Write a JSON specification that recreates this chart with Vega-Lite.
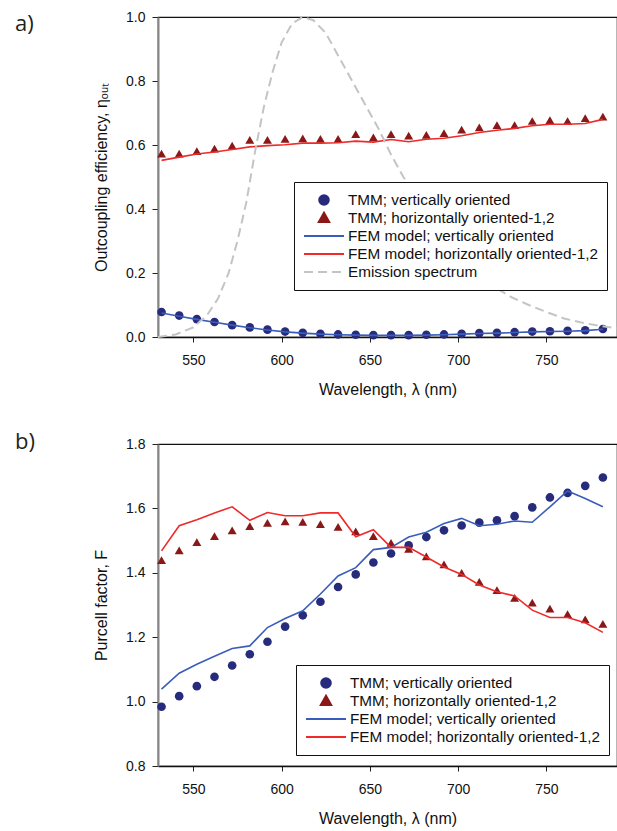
{
  "$schema": "https://vega.github.io/schema/vega-lite/v6.json",
  "background": "white",
  "padding": {"left": 14, "top": 9, "right": 1, "bottom": 5},
  "config": {
    "view": {"stroke": "#111", "strokeWidth": 1.2},
    "axis": {
      "grid": false,
      "labelFont": "Liberation Sans",
      "labelFontSize": 14,
      "labelColor": "#111",
      "titleFont": "Liberation Sans",
      "titleFontSize": 16,
      "titleFontWeight": "normal",
      "titleColor": "#111",
      "tickColor": "#222",
      "tickWidth": 1,
      "domainColor": "#111",
      "domainWidth": 1.5
    },
    "axisX": {"tickSize": 5, "labelPadding": 11, "titlePadding": 14},
    "axisY": {"tickSize": 6, "labelPadding": 7, "titlePadding": 16, "domainColor": "#858585", "domainWidth": 2},
    "title": {"font": "Open Sans", "fontSize": 22, "fontWeight": "normal", "color": "#231f20"}
  },
  "datasets": {
    "a": [
      {"wl": 532, "s": "TMM; vertically oriented", "v": 0.078},
      {"wl": 542, "s": "TMM; vertically oriented", "v": 0.067},
      {"wl": 552, "s": "TMM; vertically oriented", "v": 0.056},
      {"wl": 562, "s": "TMM; vertically oriented", "v": 0.047},
      {"wl": 572, "s": "TMM; vertically oriented", "v": 0.037},
      {"wl": 582, "s": "TMM; vertically oriented", "v": 0.030},
      {"wl": 592, "s": "TMM; vertically oriented", "v": 0.023},
      {"wl": 602, "s": "TMM; vertically oriented", "v": 0.017},
      {"wl": 612, "s": "TMM; vertically oriented", "v": 0.013},
      {"wl": 622, "s": "TMM; vertically oriented", "v": 0.010},
      {"wl": 632, "s": "TMM; vertically oriented", "v": 0.008},
      {"wl": 642, "s": "TMM; vertically oriented", "v": 0.007},
      {"wl": 652, "s": "TMM; vertically oriented", "v": 0.006},
      {"wl": 662, "s": "TMM; vertically oriented", "v": 0.006},
      {"wl": 672, "s": "TMM; vertically oriented", "v": 0.006},
      {"wl": 682, "s": "TMM; vertically oriented", "v": 0.007},
      {"wl": 692, "s": "TMM; vertically oriented", "v": 0.008},
      {"wl": 702, "s": "TMM; vertically oriented", "v": 0.010},
      {"wl": 712, "s": "TMM; vertically oriented", "v": 0.012},
      {"wl": 722, "s": "TMM; vertically oriented", "v": 0.013},
      {"wl": 732, "s": "TMM; vertically oriented", "v": 0.015},
      {"wl": 742, "s": "TMM; vertically oriented", "v": 0.017},
      {"wl": 752, "s": "TMM; vertically oriented", "v": 0.018},
      {"wl": 762, "s": "TMM; vertically oriented", "v": 0.019},
      {"wl": 772, "s": "TMM; vertically oriented", "v": 0.021},
      {"wl": 782, "s": "TMM; vertically oriented", "v": 0.025},
      {"wl": 532, "s": "TMM; horizontally oriented-1,2", "v": 0.573},
      {"wl": 542, "s": "TMM; horizontally oriented-1,2", "v": 0.573},
      {"wl": 552, "s": "TMM; horizontally oriented-1,2", "v": 0.581},
      {"wl": 562, "s": "TMM; horizontally oriented-1,2", "v": 0.589},
      {"wl": 572, "s": "TMM; horizontally oriented-1,2", "v": 0.598},
      {"wl": 582, "s": "TMM; horizontally oriented-1,2", "v": 0.616},
      {"wl": 592, "s": "TMM; horizontally oriented-1,2", "v": 0.616},
      {"wl": 602, "s": "TMM; horizontally oriented-1,2", "v": 0.619},
      {"wl": 612, "s": "TMM; horizontally oriented-1,2", "v": 0.621},
      {"wl": 622, "s": "TMM; horizontally oriented-1,2", "v": 0.619},
      {"wl": 632, "s": "TMM; horizontally oriented-1,2", "v": 0.619},
      {"wl": 642, "s": "TMM; horizontally oriented-1,2", "v": 0.634},
      {"wl": 652, "s": "TMM; horizontally oriented-1,2", "v": 0.624},
      {"wl": 662, "s": "TMM; horizontally oriented-1,2", "v": 0.634},
      {"wl": 672, "s": "TMM; horizontally oriented-1,2", "v": 0.629},
      {"wl": 682, "s": "TMM; horizontally oriented-1,2", "v": 0.632},
      {"wl": 692, "s": "TMM; horizontally oriented-1,2", "v": 0.637},
      {"wl": 702, "s": "TMM; horizontally oriented-1,2", "v": 0.648},
      {"wl": 712, "s": "TMM; horizontally oriented-1,2", "v": 0.655},
      {"wl": 722, "s": "TMM; horizontally oriented-1,2", "v": 0.662},
      {"wl": 732, "s": "TMM; horizontally oriented-1,2", "v": 0.662},
      {"wl": 742, "s": "TMM; horizontally oriented-1,2", "v": 0.675},
      {"wl": 752, "s": "TMM; horizontally oriented-1,2", "v": 0.678},
      {"wl": 762, "s": "TMM; horizontally oriented-1,2", "v": 0.675},
      {"wl": 772, "s": "TMM; horizontally oriented-1,2", "v": 0.684},
      {"wl": 782, "s": "TMM; horizontally oriented-1,2", "v": 0.689},
      {"wl": 532, "s": "FEM model; vertically oriented", "v": 0.075},
      {"wl": 542, "s": "FEM model; vertically oriented", "v": 0.065},
      {"wl": 552, "s": "FEM model; vertically oriented", "v": 0.055},
      {"wl": 562, "s": "FEM model; vertically oriented", "v": 0.046},
      {"wl": 572, "s": "FEM model; vertically oriented", "v": 0.037},
      {"wl": 582, "s": "FEM model; vertically oriented", "v": 0.029},
      {"wl": 592, "s": "FEM model; vertically oriented", "v": 0.022},
      {"wl": 602, "s": "FEM model; vertically oriented", "v": 0.016},
      {"wl": 612, "s": "FEM model; vertically oriented", "v": 0.012},
      {"wl": 622, "s": "FEM model; vertically oriented", "v": 0.009},
      {"wl": 632, "s": "FEM model; vertically oriented", "v": 0.007},
      {"wl": 642, "s": "FEM model; vertically oriented", "v": 0.006},
      {"wl": 652, "s": "FEM model; vertically oriented", "v": 0.005},
      {"wl": 662, "s": "FEM model; vertically oriented", "v": 0.005},
      {"wl": 672, "s": "FEM model; vertically oriented", "v": 0.005},
      {"wl": 682, "s": "FEM model; vertically oriented", "v": 0.006},
      {"wl": 692, "s": "FEM model; vertically oriented", "v": 0.007},
      {"wl": 702, "s": "FEM model; vertically oriented", "v": 0.009},
      {"wl": 712, "s": "FEM model; vertically oriented", "v": 0.011},
      {"wl": 722, "s": "FEM model; vertically oriented", "v": 0.012},
      {"wl": 732, "s": "FEM model; vertically oriented", "v": 0.014},
      {"wl": 742, "s": "FEM model; vertically oriented", "v": 0.016},
      {"wl": 752, "s": "FEM model; vertically oriented", "v": 0.017},
      {"wl": 762, "s": "FEM model; vertically oriented", "v": 0.018},
      {"wl": 772, "s": "FEM model; vertically oriented", "v": 0.020},
      {"wl": 782, "s": "FEM model; vertically oriented", "v": 0.024},
      {"wl": 532, "s": "FEM model; horizontally oriented-1,2", "v": 0.552},
      {"wl": 542, "s": "FEM model; horizontally oriented-1,2", "v": 0.562},
      {"wl": 552, "s": "FEM model; horizontally oriented-1,2", "v": 0.572},
      {"wl": 562, "s": "FEM model; horizontally oriented-1,2", "v": 0.578},
      {"wl": 572, "s": "FEM model; horizontally oriented-1,2", "v": 0.586},
      {"wl": 582, "s": "FEM model; horizontally oriented-1,2", "v": 0.594},
      {"wl": 592, "s": "FEM model; horizontally oriented-1,2", "v": 0.598},
      {"wl": 602, "s": "FEM model; horizontally oriented-1,2", "v": 0.601},
      {"wl": 612, "s": "FEM model; horizontally oriented-1,2", "v": 0.606},
      {"wl": 622, "s": "FEM model; horizontally oriented-1,2", "v": 0.606},
      {"wl": 632, "s": "FEM model; horizontally oriented-1,2", "v": 0.607},
      {"wl": 642, "s": "FEM model; horizontally oriented-1,2", "v": 0.612},
      {"wl": 652, "s": "FEM model; horizontally oriented-1,2", "v": 0.609},
      {"wl": 662, "s": "FEM model; horizontally oriented-1,2", "v": 0.617},
      {"wl": 672, "s": "FEM model; horizontally oriented-1,2", "v": 0.610},
      {"wl": 682, "s": "FEM model; horizontally oriented-1,2", "v": 0.618},
      {"wl": 692, "s": "FEM model; horizontally oriented-1,2", "v": 0.621},
      {"wl": 702, "s": "FEM model; horizontally oriented-1,2", "v": 0.629},
      {"wl": 712, "s": "FEM model; horizontally oriented-1,2", "v": 0.639},
      {"wl": 722, "s": "FEM model; horizontally oriented-1,2", "v": 0.646},
      {"wl": 732, "s": "FEM model; horizontally oriented-1,2", "v": 0.652},
      {"wl": 742, "s": "FEM model; horizontally oriented-1,2", "v": 0.660},
      {"wl": 752, "s": "FEM model; horizontally oriented-1,2", "v": 0.665},
      {"wl": 762, "s": "FEM model; horizontally oriented-1,2", "v": 0.665},
      {"wl": 772, "s": "FEM model; horizontally oriented-1,2", "v": 0.667},
      {"wl": 782, "s": "FEM model; horizontally oriented-1,2", "v": 0.680},
      {"wl": 530, "s": "Emission spectrum", "v": 0.0},
      {"wl": 540, "s": "Emission spectrum", "v": 0.008},
      {"wl": 550, "s": "Emission spectrum", "v": 0.03},
      {"wl": 558, "s": "Emission spectrum", "v": 0.07},
      {"wl": 564, "s": "Emission spectrum", "v": 0.12},
      {"wl": 570, "s": "Emission spectrum", "v": 0.2},
      {"wl": 575, "s": "Emission spectrum", "v": 0.3},
      {"wl": 580, "s": "Emission spectrum", "v": 0.42},
      {"wl": 585, "s": "Emission spectrum", "v": 0.58},
      {"wl": 590, "s": "Emission spectrum", "v": 0.72},
      {"wl": 595, "s": "Emission spectrum", "v": 0.83},
      {"wl": 600, "s": "Emission spectrum", "v": 0.92},
      {"wl": 606, "s": "Emission spectrum", "v": 0.98},
      {"wl": 612, "s": "Emission spectrum", "v": 1.0},
      {"wl": 618, "s": "Emission spectrum", "v": 0.99},
      {"wl": 625, "s": "Emission spectrum", "v": 0.95},
      {"wl": 632, "s": "Emission spectrum", "v": 0.88},
      {"wl": 640, "s": "Emission spectrum", "v": 0.8},
      {"wl": 648, "s": "Emission spectrum", "v": 0.72},
      {"wl": 655, "s": "Emission spectrum", "v": 0.65},
      {"wl": 662, "s": "Emission spectrum", "v": 0.57},
      {"wl": 669, "s": "Emission spectrum", "v": 0.5},
      {"wl": 676, "s": "Emission spectrum", "v": 0.44},
      {"wl": 684, "s": "Emission spectrum", "v": 0.37},
      {"wl": 692, "s": "Emission spectrum", "v": 0.31},
      {"wl": 700, "s": "Emission spectrum", "v": 0.26},
      {"wl": 710, "s": "Emission spectrum", "v": 0.2},
      {"wl": 720, "s": "Emission spectrum", "v": 0.158},
      {"wl": 730, "s": "Emission spectrum", "v": 0.125},
      {"wl": 740, "s": "Emission spectrum", "v": 0.1},
      {"wl": 750, "s": "Emission spectrum", "v": 0.078},
      {"wl": 760, "s": "Emission spectrum", "v": 0.058},
      {"wl": 770, "s": "Emission spectrum", "v": 0.045},
      {"wl": 780, "s": "Emission spectrum", "v": 0.035},
      {"wl": 790, "s": "Emission spectrum", "v": 0.027}
    ],
    "b": [
      {"wl": 532, "s": "TMM; vertically oriented", "v": 0.984},
      {"wl": 542, "s": "TMM; vertically oriented", "v": 1.017},
      {"wl": 552, "s": "TMM; vertically oriented", "v": 1.048},
      {"wl": 562, "s": "TMM; vertically oriented", "v": 1.077},
      {"wl": 572, "s": "TMM; vertically oriented", "v": 1.112},
      {"wl": 582, "s": "TMM; vertically oriented", "v": 1.147},
      {"wl": 592, "s": "TMM; vertically oriented", "v": 1.186},
      {"wl": 602, "s": "TMM; vertically oriented", "v": 1.233},
      {"wl": 612, "s": "TMM; vertically oriented", "v": 1.268},
      {"wl": 622, "s": "TMM; vertically oriented", "v": 1.310},
      {"wl": 632, "s": "TMM; vertically oriented", "v": 1.356},
      {"wl": 642, "s": "TMM; vertically oriented", "v": 1.395},
      {"wl": 652, "s": "TMM; vertically oriented", "v": 1.432},
      {"wl": 662, "s": "TMM; vertically oriented", "v": 1.460},
      {"wl": 672, "s": "TMM; vertically oriented", "v": 1.485},
      {"wl": 682, "s": "TMM; vertically oriented", "v": 1.511},
      {"wl": 692, "s": "TMM; vertically oriented", "v": 1.532},
      {"wl": 702, "s": "TMM; vertically oriented", "v": 1.547},
      {"wl": 712, "s": "TMM; vertically oriented", "v": 1.556},
      {"wl": 722, "s": "TMM; vertically oriented", "v": 1.563},
      {"wl": 732, "s": "TMM; vertically oriented", "v": 1.576},
      {"wl": 742, "s": "TMM; vertically oriented", "v": 1.603},
      {"wl": 752, "s": "TMM; vertically oriented", "v": 1.634},
      {"wl": 762, "s": "TMM; vertically oriented", "v": 1.648},
      {"wl": 772, "s": "TMM; vertically oriented", "v": 1.670},
      {"wl": 782, "s": "TMM; vertically oriented", "v": 1.696},
      {"wl": 532, "s": "TMM; horizontally oriented-1,2", "v": 1.439},
      {"wl": 542, "s": "TMM; horizontally oriented-1,2", "v": 1.470},
      {"wl": 552, "s": "TMM; horizontally oriented-1,2", "v": 1.495},
      {"wl": 562, "s": "TMM; horizontally oriented-1,2", "v": 1.514},
      {"wl": 572, "s": "TMM; horizontally oriented-1,2", "v": 1.532},
      {"wl": 582, "s": "TMM; horizontally oriented-1,2", "v": 1.545},
      {"wl": 592, "s": "TMM; horizontally oriented-1,2", "v": 1.555},
      {"wl": 602, "s": "TMM; horizontally oriented-1,2", "v": 1.560},
      {"wl": 612, "s": "TMM; horizontally oriented-1,2", "v": 1.558},
      {"wl": 622, "s": "TMM; horizontally oriented-1,2", "v": 1.551},
      {"wl": 632, "s": "TMM; horizontally oriented-1,2", "v": 1.543},
      {"wl": 642, "s": "TMM; horizontally oriented-1,2", "v": 1.529},
      {"wl": 652, "s": "TMM; horizontally oriented-1,2", "v": 1.514},
      {"wl": 662, "s": "TMM; horizontally oriented-1,2", "v": 1.493},
      {"wl": 672, "s": "TMM; horizontally oriented-1,2", "v": 1.474},
      {"wl": 682, "s": "TMM; horizontally oriented-1,2", "v": 1.451},
      {"wl": 692, "s": "TMM; horizontally oriented-1,2", "v": 1.426},
      {"wl": 702, "s": "TMM; horizontally oriented-1,2", "v": 1.400},
      {"wl": 712, "s": "TMM; horizontally oriented-1,2", "v": 1.372},
      {"wl": 722, "s": "TMM; horizontally oriented-1,2", "v": 1.346},
      {"wl": 732, "s": "TMM; horizontally oriented-1,2", "v": 1.322},
      {"wl": 742, "s": "TMM; horizontally oriented-1,2", "v": 1.307},
      {"wl": 752, "s": "TMM; horizontally oriented-1,2", "v": 1.289},
      {"wl": 762, "s": "TMM; horizontally oriented-1,2", "v": 1.272},
      {"wl": 772, "s": "TMM; horizontally oriented-1,2", "v": 1.255},
      {"wl": 782, "s": "TMM; horizontally oriented-1,2", "v": 1.241},
      {"wl": 532, "s": "FEM model; vertically oriented", "v": 1.039},
      {"wl": 542, "s": "FEM model; vertically oriented", "v": 1.088},
      {"wl": 552, "s": "FEM model; vertically oriented", "v": 1.116},
      {"wl": 562, "s": "FEM model; vertically oriented", "v": 1.141},
      {"wl": 572, "s": "FEM model; vertically oriented", "v": 1.165},
      {"wl": 582, "s": "FEM model; vertically oriented", "v": 1.173},
      {"wl": 592, "s": "FEM model; vertically oriented", "v": 1.230},
      {"wl": 602, "s": "FEM model; vertically oriented", "v": 1.258},
      {"wl": 612, "s": "FEM model; vertically oriented", "v": 1.282},
      {"wl": 622, "s": "FEM model; vertically oriented", "v": 1.334},
      {"wl": 632, "s": "FEM model; vertically oriented", "v": 1.390},
      {"wl": 642, "s": "FEM model; vertically oriented", "v": 1.416},
      {"wl": 652, "s": "FEM model; vertically oriented", "v": 1.472},
      {"wl": 662, "s": "FEM model; vertically oriented", "v": 1.479},
      {"wl": 672, "s": "FEM model; vertically oriented", "v": 1.511},
      {"wl": 682, "s": "FEM model; vertically oriented", "v": 1.526},
      {"wl": 692, "s": "FEM model; vertically oriented", "v": 1.553},
      {"wl": 702, "s": "FEM model; vertically oriented", "v": 1.569},
      {"wl": 712, "s": "FEM model; vertically oriented", "v": 1.546},
      {"wl": 722, "s": "FEM model; vertically oriented", "v": 1.551},
      {"wl": 732, "s": "FEM model; vertically oriented", "v": 1.561},
      {"wl": 742, "s": "FEM model; vertically oriented", "v": 1.557},
      {"wl": 752, "s": "FEM model; vertically oriented", "v": 1.605},
      {"wl": 762, "s": "FEM model; vertically oriented", "v": 1.654},
      {"wl": 772, "s": "FEM model; vertically oriented", "v": 1.631},
      {"wl": 782, "s": "FEM model; vertically oriented", "v": 1.605},
      {"wl": 532, "s": "FEM model; horizontally oriented-1,2", "v": 1.468},
      {"wl": 542, "s": "FEM model; horizontally oriented-1,2", "v": 1.546},
      {"wl": 552, "s": "FEM model; horizontally oriented-1,2", "v": 1.565},
      {"wl": 562, "s": "FEM model; horizontally oriented-1,2", "v": 1.586},
      {"wl": 572, "s": "FEM model; horizontally oriented-1,2", "v": 1.605},
      {"wl": 582, "s": "FEM model; horizontally oriented-1,2", "v": 1.563},
      {"wl": 592, "s": "FEM model; horizontally oriented-1,2", "v": 1.587},
      {"wl": 602, "s": "FEM model; horizontally oriented-1,2", "v": 1.577},
      {"wl": 612, "s": "FEM model; horizontally oriented-1,2", "v": 1.577},
      {"wl": 622, "s": "FEM model; horizontally oriented-1,2", "v": 1.586},
      {"wl": 632, "s": "FEM model; horizontally oriented-1,2", "v": 1.586},
      {"wl": 642, "s": "FEM model; horizontally oriented-1,2", "v": 1.512},
      {"wl": 652, "s": "FEM model; horizontally oriented-1,2", "v": 1.534},
      {"wl": 662, "s": "FEM model; horizontally oriented-1,2", "v": 1.479},
      {"wl": 672, "s": "FEM model; horizontally oriented-1,2", "v": 1.479},
      {"wl": 682, "s": "FEM model; horizontally oriented-1,2", "v": 1.449},
      {"wl": 692, "s": "FEM model; horizontally oriented-1,2", "v": 1.418},
      {"wl": 702, "s": "FEM model; horizontally oriented-1,2", "v": 1.395},
      {"wl": 712, "s": "FEM model; horizontally oriented-1,2", "v": 1.362},
      {"wl": 722, "s": "FEM model; horizontally oriented-1,2", "v": 1.341},
      {"wl": 732, "s": "FEM model; horizontally oriented-1,2", "v": 1.328},
      {"wl": 742, "s": "FEM model; horizontally oriented-1,2", "v": 1.284},
      {"wl": 752, "s": "FEM model; horizontally oriented-1,2", "v": 1.261},
      {"wl": 762, "s": "FEM model; horizontally oriented-1,2", "v": 1.261},
      {"wl": 772, "s": "FEM model; horizontally oriented-1,2", "v": 1.245},
      {"wl": 782, "s": "FEM model; horizontally oriented-1,2", "v": 1.215}
    ]
  },
  "columns": 1,
  "align": "none",
  "spacing": 32,
  "resolve": {"scale": {"x": "independent", "y": "independent", "color": "independent"}, "legend": {"color": "independent"}},
  "concat": [
    {
      "width": 459,
      "height": 320,
      "title": {"text": "a)", "anchor": "start", "frame": "group", "dx": -143, "offset": 0, "baseline": "alphabetic", "dy": 43},
      "data": {"name": "a"},
      "encoding": {
        "x": {"field": "wl", "type": "quantitative", "scale": {"domain": [530, 790], "nice": false, "zero": false}, "axis": {"values": [550, 600, 650, 700, 750], "title": "Wavelength, λ (nm)"}},
        "y": {"field": "v", "type": "quantitative", "scale": {"domain": [0, 1], "nice": false}, "axis": {"values": [0, 0.2, 0.4, 0.6, 0.8, 1.0], "format": ".1f", "title": "Outcoupling efficiency, ηₒᵤₜ"}},
        "color": {
          "field": "s", "type": "nominal",
          "scale": {"domain": ["TMM; vertically oriented", "TMM; horizontally oriented-1,2", "FEM model; vertically oriented", "FEM model; horizontally oriented-1,2", "Emission spectrum"], "range": ["#272B7B", "#8A1818", "#3A5DBB", "#EE2A2A", "#C4C4C4"]},
          "legend": {
            "orient": "none", "legendX": 136, "legendY": 165, "title": null,
            "fillColor": "white", "strokeColor": "#111", "padding": 9,
            "labelFont": "Liberation Sans", "labelFontSize": 15.3, "labelColor": "#111", "labelLimit": 400,
            "symbolSize": 256, "symbolStrokeWidth": 2, "labelOffset": 27, "rowPadding": -1,
            "encode": {"symbols": {"update": {
              "shape": {"signal": "datum.value === 'TMM; vertically oriented' ? 'M0.9,0A0.6,0.6,0,1,0,2.1,0A0.6,0.6,0,1,0,0.9,0Z' : datum.value === 'TMM; horizontally oriented-1,2' ? 'M1.5,-0.65L2.15,0.5L0.85,0.5Z' : 'M-1,0L4,0'"},
              "fill": {"signal": "datum.value === 'TMM; vertically oriented' ? '#272B7B' : datum.value === 'TMM; horizontally oriented-1,2' ? '#8A1818' : 'transparent'"},
              "stroke": {"signal": "datum.value === 'FEM model; vertically oriented' ? '#3A5DBB' : datum.value === 'FEM model; horizontally oriented-1,2' ? '#EE2A2A' : datum.value === 'Emission spectrum' ? '#C4C4C4' : 'transparent'"},
              "strokeDash": {"signal": "datum.value === 'Emission spectrum' ? [9,5] : []"},
              "opacity": {"value": 1}
            }}}
          }
        }
      },
      "layer": [
        {"transform": [{"filter": "datum.s === 'TMM; vertically oriented'"}], "mark": {"type": "point", "shape": "circle", "filled": true, "size": 75, "opacity": 1}},
        {"transform": [{"filter": "datum.s === 'TMM; horizontally oriented-1,2'"}], "mark": {"type": "point", "shape": "triangle-up", "filled": true, "size": 80, "opacity": 1}},
        {"transform": [{"filter": "datum.s === 'FEM model; vertically oriented'"}], "mark": {"type": "line", "strokeWidth": 1.6}},
        {"transform": [{"filter": "datum.s === 'FEM model; horizontally oriented-1,2'"}], "mark": {"type": "line", "strokeWidth": 1.6}},
        {"transform": [{"filter": "datum.s === 'Emission spectrum'"}], "mark": {"type": "line", "strokeWidth": 2, "strokeDash": [9, 5]}}
      ]
    },
    {
      "width": 459,
      "height": 322,
      "title": {"text": "b)", "anchor": "start", "frame": "group", "dx": -143, "offset": 0, "baseline": "alphabetic", "dy": 34},
      "data": {"name": "b"},
      "encoding": {
        "x": {"field": "wl", "type": "quantitative", "scale": {"domain": [530, 790], "nice": false, "zero": false}, "axis": {"values": [550, 600, 650, 700, 750], "title": "Wavelength, λ (nm)"}},
        "y": {"field": "v", "type": "quantitative", "scale": {"domain": [0.8, 1.8], "nice": false, "zero": false}, "axis": {"values": [0.8, 1.0, 1.2, 1.4, 1.6, 1.8], "format": ".1f", "title": "Purcell factor, F"}},
        "color": {
          "field": "s", "type": "nominal",
          "scale": {"domain": ["TMM; vertically oriented", "TMM; horizontally oriented-1,2", "FEM model; vertically oriented", "FEM model; horizontally oriented-1,2"], "range": ["#272B7B", "#8A1818", "#3A5DBB", "#EE2A2A"]},
          "legend": {
            "orient": "none", "legendX": 138, "legendY": 221, "title": null,
            "fillColor": "white", "strokeColor": "#111", "padding": 9,
            "labelFont": "Liberation Sans", "labelFontSize": 15.3, "labelColor": "#111", "labelLimit": 400,
            "symbolSize": 256, "symbolStrokeWidth": 2, "labelOffset": 27, "rowPadding": -1,
            "encode": {"symbols": {"update": {
              "shape": {"signal": "datum.value === 'TMM; vertically oriented' ? 'M0.9,0A0.6,0.6,0,1,0,2.1,0A0.6,0.6,0,1,0,0.9,0Z' : datum.value === 'TMM; horizontally oriented-1,2' ? 'M1.5,-0.65L2.15,0.5L0.85,0.5Z' : 'M-1,0L4,0'"},
              "fill": {"signal": "datum.value === 'TMM; vertically oriented' ? '#272B7B' : datum.value === 'TMM; horizontally oriented-1,2' ? '#8A1818' : 'transparent'"},
              "stroke": {"signal": "datum.value === 'FEM model; vertically oriented' ? '#3A5DBB' : datum.value === 'FEM model; horizontally oriented-1,2' ? '#EE2A2A' : 'transparent'"},
              "strokeDash": {"signal": "[]"},
              "opacity": {"value": 1}
            }}}
          }
        }
      },
      "layer": [
        {"transform": [{"filter": "datum.s === 'TMM; vertically oriented'"}], "mark": {"type": "point", "shape": "circle", "filled": true, "size": 75, "opacity": 1}},
        {"transform": [{"filter": "datum.s === 'TMM; horizontally oriented-1,2'"}], "mark": {"type": "point", "shape": "triangle-up", "filled": true, "size": 80, "opacity": 1}},
        {"transform": [{"filter": "datum.s === 'FEM model; vertically oriented'"}], "mark": {"type": "line", "strokeWidth": 1.6}},
        {"transform": [{"filter": "datum.s === 'FEM model; horizontally oriented-1,2'"}], "mark": {"type": "line", "strokeWidth": 1.6}}
      ]
    }
  ]
}
